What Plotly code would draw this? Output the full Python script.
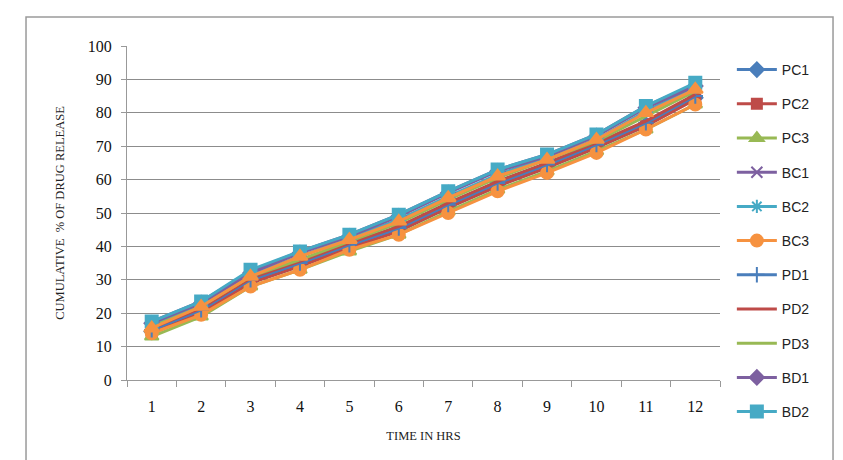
import plotly.graph_objects as go

hours = ["1", "2", "3", "4", "5", "6", "7", "8", "9", "10", "11", "12"]

PC1 = [14.5, 20.5, 29.5, 34.5, 40.0, 45.0, 52.0, 58.5, 64.0, 70.0, 76.5, 84.5]
PC2 = [14.0, 20.0, 29.0, 34.0, 39.5, 44.5, 51.5, 58.0, 63.5, 69.5, 76.0, 84.0]
PC3 = [13.0, 19.0, 28.0, 33.0, 38.5, 43.5, 50.5, 57.0, 62.5, 68.5, 75.0, 82.5]
BC1 = [17.5, 23.5, 32.5, 38.5, 43.5, 49.5, 56.5, 63.0, 67.5, 73.5, 82.0, 88.5]
BC2 = [16.5, 22.5, 31.5, 37.0, 42.5, 48.0, 55.0, 61.5, 66.5, 72.0, 80.5, 87.5]
BC3 = [14.0, 19.5, 28.0, 33.0, 39.0, 43.5, 50.0, 56.5, 62.0, 68.0, 75.0, 82.5]
PD1 = [15.0, 21.0, 30.0, 35.0, 40.5, 45.5, 52.5, 59.0, 64.5, 70.5, 77.0, 85.0]
PD2 = [15.5, 21.5, 30.5, 35.5, 41.0, 46.0, 53.0, 59.5, 65.0, 71.0, 77.5, 85.5]
PD3 = [16.0, 22.0, 31.0, 36.0, 41.5, 47.0, 54.0, 60.5, 66.0, 71.5, 79.0, 86.5]
BD1 = [17.0, 23.0, 32.0, 38.0, 43.0, 49.0, 56.0, 62.5, 67.0, 73.0, 81.5, 88.0]
BD2 = [17.5, 23.5, 33.0, 38.5, 43.5, 49.5, 56.5, 63.0, 67.5, 73.5, 82.0, 89.0]
BD3 = [15.5, 22.0, 31.0, 37.0, 42.0, 47.5, 54.5, 61.0, 66.0, 72.0, 80.0, 87.0]

series = [
    ("PC1", PC1, "#4A7EBB", "diamond", 11, True),
    ("PC2", PC2, "#BE4B48", "square", 10, True),
    ("PC3", PC3, "#98B954", "triangle-up", 12, True),
    ("BC1", BC1, "#7D60A0", "x-thin-open", 11, True),
    ("BC2", BC2, "#46AAC5", "asterisk-open", 11, True),
    ("BC3", BC3, "#F69240", "circle", 12, True),
    ("PD1", PD1, "#4A7EBB", "cross-thin-open", 11, True),
    ("PD2", PD2, "#BE4B48", None, 0, True),
    ("PD3", PD3, "#98B954", None, 0, True),
    ("BD1", BD1, "#7D60A0", "diamond", 11, True),
    ("BD2", BD2, "#46AAC5", "square", 12, True),
    ("BD3", BD3, "#F69240", "triangle-up", 13, False),
]

fig = go.Figure()
for name, vals, color, sym, size, show in series:
    if sym is None:
        mode = "lines"
        marker = dict()
    else:
        mode = "lines+markers"
        marker = dict(symbol=sym, size=size, color=color,
                      line=dict(color=color, width=2))
    fig.add_trace(go.Scatter(
        x=hours, y=vals, name=name, mode=mode,
        line=dict(color=color, width=3), marker=marker,
        showlegend=show, legendgroup=name,
    ))

fig.update_layout(
    width=843, height=460,
    margin=dict(l=127, r=123, t=46, b=80),
    paper_bgcolor="white", plot_bgcolor="white",
    font=dict(family="Liberation Serif", color="#222"),
    showlegend=True,
    legend=dict(
        x=1.02, y=0.976, xanchor="left", yanchor="top",
        font=dict(family="Liberation Sans", size=14, color="#222"),
        tracegroupgap=13, itemwidth=40, traceorder="grouped",
        bgcolor="rgba(0,0,0,0)", maxheight=440,
    ),
    xaxis=dict(
        type="category", tickson="boundaries", ticks="outside",
        range=[-0.5, 11.5],
        ticklen=6, tickcolor="#999", showline=True, linecolor="#999",
        linewidth=1, showgrid=False, zeroline=False,
        ticklabelstandoff=12,
        tickfont=dict(family="Liberation Serif", size=16, color="#111"),
        title=dict(text="TIME IN HRS", font=dict(family="Liberation Serif", size=12.5, color="#222"),
                   standoff=17),
    ),
    yaxis=dict(
        range=[0, 100], dtick=10, ticks="outside", ticklen=5, tickcolor="#999",
        showline=True, linecolor="#999", linewidth=1,
        showgrid=True, gridcolor="#8c8c8c", gridwidth=1, zeroline=False,
        ticklabelstandoff=6,
        tickfont=dict(family="Liberation Serif", size=16, color="#111"),
        title=dict(text="CUMULATIVE  % OF DRUG RELEASE",
                   font=dict(family="Liberation Serif", size=12.5, color="#222"),
                   standoff=20),
    ),
    shapes=[dict(type="rect", xref="paper", yref="paper",
                 x0=-0.1703, x1=1.1906, y0=-0.28, y1=1.0868,
                 line=dict(color="#9a9a9a", width=1.5), layer="below")],
)

fig.write_html("out.html")
